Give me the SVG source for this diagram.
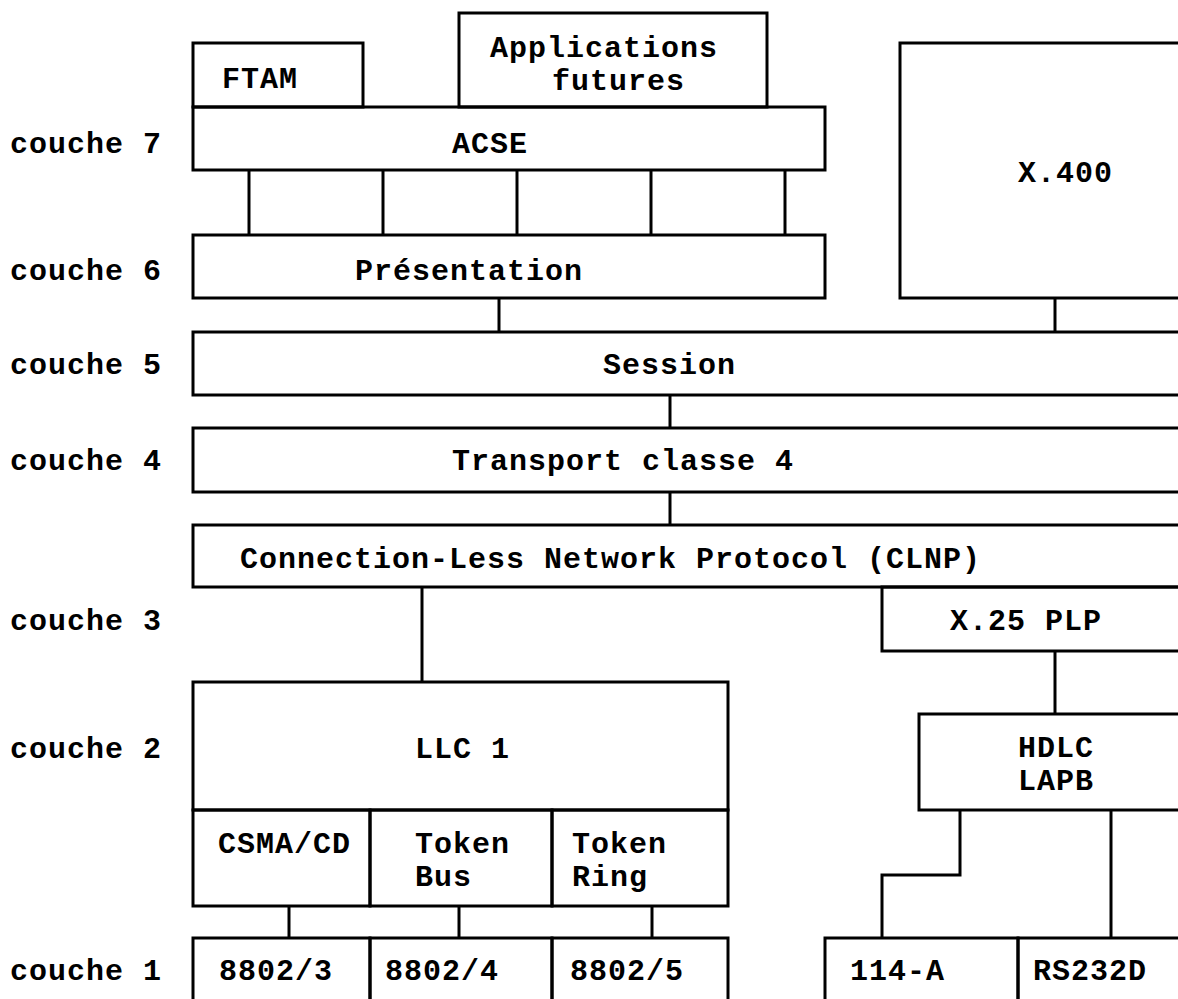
<svg xmlns="http://www.w3.org/2000/svg" width="1178" height="999" viewBox="0 0 1178 999">
  <style>
    .box { fill: none; stroke: #000; stroke-width: 3; }
    .wire { fill: none; stroke: #000; stroke-width: 3; }
    text { font-family: "Liberation Mono", "Courier New", monospace; font-size: 30px; font-weight: bold; fill: #000; letter-spacing: 1px; }
  </style>
  <rect width="1178" height="999" fill="#fff"/>

  <!-- layer labels -->
  <g id="labels">
    <text x="10" y="153">couche 7</text>
    <text x="10" y="280">couche 6</text>
    <text x="10" y="374">couche 5</text>
    <text x="10" y="470">couche 4</text>
    <text x="10" y="630">couche 3</text>
    <text x="10" y="758">couche 2</text>
    <text x="10" y="980">couche 1</text>
  </g>

  <!-- connectors -->
  <g id="connectors">
    <line class="wire" x1="249" y1="170" x2="249" y2="235"/>
    <line class="wire" x1="383" y1="170" x2="383" y2="235"/>
    <line class="wire" x1="517" y1="170" x2="517" y2="235"/>
    <line class="wire" x1="651" y1="170" x2="651" y2="235"/>
    <line class="wire" x1="785" y1="170" x2="785" y2="235"/>
    <line class="wire" x1="499" y1="298" x2="499" y2="332"/>
    <line class="wire" x1="1055" y1="298" x2="1055" y2="332"/>
    <line class="wire" x1="670" y1="395" x2="670" y2="428"/>
    <line class="wire" x1="670" y1="492" x2="670" y2="525"/>
    <line class="wire" x1="422" y1="587" x2="422" y2="682"/>
    <line class="wire" x1="1055" y1="651" x2="1055" y2="714"/>
    <line class="wire" x1="289" y1="906" x2="289" y2="938"/>
    <line class="wire" x1="459" y1="906" x2="459" y2="938"/>
    <line class="wire" x1="652" y1="906" x2="652" y2="938"/>
    <polyline class="wire" points="960,810 960,875 882,875 882,938"/>
    <line class="wire" x1="1111" y1="810" x2="1111" y2="938"/>
  </g>

  <g id="ftam">
    <rect class="box" x="193" y="43" width="170" height="64"/>
    <text x="222" y="88">FTAM</text>
  </g>
  <g id="applications">
    <rect class="box" x="459" y="13" width="308" height="94"/>
    <text x="490" y="57">Applications</text>
    <text x="552" y="90">futures</text>
  </g>
  <g id="acse">
    <rect class="box" x="193" y="107" width="632" height="63"/>
    <text x="452" y="153">ACSE</text>
  </g>
  <g id="presentation">
    <rect class="box" x="193" y="235" width="632" height="63"/>
    <text x="355" y="280">Présentation</text>
  </g>
  <g id="x400">
    <rect class="box" x="900" y="43" width="300" height="255"/>
    <text x="1018" y="182">X.400</text>
  </g>
  <g id="session">
    <rect class="box" x="193" y="332" width="1000" height="63"/>
    <text x="603" y="374">Session</text>
  </g>
  <g id="transport">
    <rect class="box" x="193" y="428" width="1000" height="64"/>
    <text x="452" y="470">Transport classe 4</text>
  </g>
  <g id="clnp">
    <rect class="box" x="193" y="525" width="1000" height="62"/>
    <text x="240" y="568">Connection-Less Network Protocol (CLNP)</text>
  </g>
  <g id="x25">
    <rect class="box" x="882" y="587" width="310" height="64"/>
    <text x="950" y="630">X.25 PLP</text>
  </g>
  <g id="llc1">
    <rect class="box" x="193" y="682" width="535" height="128"/>
    <text x="415" y="758">LLC 1</text>
  </g>
  <g id="csma">
    <rect class="box" x="193" y="810" width="177" height="96"/>
    <text x="218" y="853">CSMA/CD</text>
  </g>
  <g id="tokenbus">
    <rect class="box" x="370" y="810" width="182" height="96"/>
    <text x="415" y="853">Token</text>
    <text x="415" y="886">Bus</text>
  </g>
  <g id="tokenring">
    <rect class="box" x="552" y="810" width="176" height="96"/>
    <text x="572" y="853">Token</text>
    <text x="572" y="886">Ring</text>
  </g>
  <g id="hdlc">
    <rect class="box" x="919" y="714" width="275" height="96"/>
    <text x="1018" y="757">HDLC</text>
    <text x="1018" y="790">LAPB</text>
  </g>
  <g id="p8802-3">
    <rect class="box" x="193" y="938" width="177" height="80"/>
    <text x="219" y="980">8802/3</text>
  </g>
  <g id="p8802-4">
    <rect class="box" x="370" y="938" width="182" height="80"/>
    <text x="385" y="980">8802/4</text>
  </g>
  <g id="p8802-5">
    <rect class="box" x="552" y="938" width="176" height="80"/>
    <text x="570" y="980">8802/5</text>
  </g>
  <g id="p114a">
    <rect class="box" x="825" y="938" width="193" height="80"/>
    <text x="850" y="980">114-A</text>
  </g>
  <g id="rs232d">
    <rect class="box" x="1018" y="938" width="180" height="80"/>
    <text x="1033" y="980">RS232D</text>
  </g>
</svg>
